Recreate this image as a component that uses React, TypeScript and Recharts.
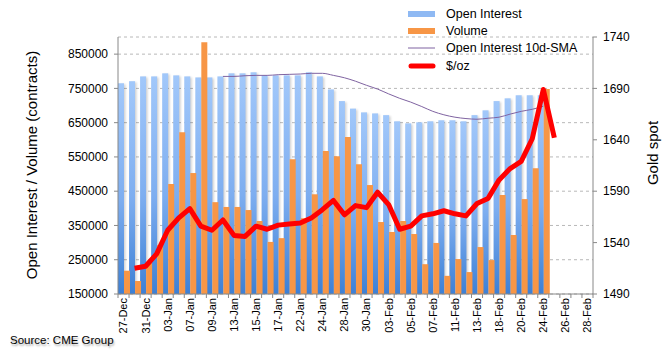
import React from 'react';
import { ComposedChart, Bar, Line, XAxis, YAxis, CartesianGrid } from 'recharts';

// trading days, 27-Dec to 28-Feb
const dates = [
  '27-Dec', '30-Dec', '31-Dec', '02-Jan', '03-Jan', '06-Jan', '07-Jan', '08-Jan', '09-Jan', '10-Jan',
  '13-Jan', '14-Jan', '15-Jan', '16-Jan', '17-Jan', '21-Jan', '22-Jan', '23-Jan', '24-Jan', '27-Jan',
  '28-Jan', '29-Jan', '30-Jan', '31-Jan', '03-Feb', '04-Feb', '05-Feb', '06-Feb', '07-Feb', '10-Feb',
  '11-Feb', '12-Feb', '13-Feb', '14-Feb', '18-Feb', '19-Feb', '20-Feb', '21-Feb', '24-Feb', '25-Feb',
  '26-Feb', '27-Feb', '28-Feb',
];

const openInterest = [
  765000, 771000, 785000, 785000, 794000, 788000, 785000, 782000, 782000, 785000,
  794000, 794000, 797000, 788000, 788000, 788000, 788000, 797000, 785000, 747000,
  713000, 691000, 680000, 677000, 672000, 654000, 648000, 651000, 654000, 657000,
  657000, 654000, 672000, 686000, 713000, 721000, 730000, 730000, 730000,
];

const volume = [
  218000, 188000, 240000, 293000, 471000, 622000, 503000, 885000, 418000, 404000,
  404000, 395000, 363000, 302000, 313000, 543000, 371000, 441000, 567000, 552000,
  608000, 529000, 468000, 360000, 331000, 363000, 325000, 237000, 299000, 203000,
  252000, 214000, 287000, 249000, 439000, 322000, 427000, 517000, 748000,
];

const oiSma = [
  null, null, null, null, null, null, null, null, null, 785000,
  785000, 787000, 788000, 788000, 790000, 791000, 792000, 794000, 794000, 788000,
  781000, 771000, 759000, 748000, 734000, 721000, 710000, 697000, 683000, 673000,
  666000, 662000, 660000, 663000, 666000, 675000, 683000, 689000, 698000,
];

const goldSpot = [
  null, 1515, 1517, 1529, 1552, 1564, 1573, 1556, 1552, 1562,
  1547, 1546, 1556, 1553, 1557, 1558, 1559, 1564, 1572, 1581,
  1567, 1576, 1574, 1589, 1577, 1553, 1556, 1566, 1568, 1571,
  1568, 1566, 1578, 1583, 1601, 1612, 1619, 1641, 1689, 1642,
];

const leftTicks = [150000, 250000, 350000, 450000, 550000, 650000, 750000, 850000];
const rightTicks = [1490, 1540, 1590, 1640, 1690, 1740];

const data = dates.map((date, i) => ({
  date,
  oi: openInterest[i] ?? null,
  vol: volume[i] ?? null,
  sma: oiSma[i] ?? null,
  gold: goldSpot[i] ?? null,
}));

const W = 671;
const H = 359;
const PLOT_W = 475;
const FONT = '"Liberation Sans", Arial, sans-serif';

const DateTick = (props: any) => {
  const { x, y, payload } = props;
  const idx = props.index ?? payload.index;
  const half = PLOT_W / dates.length / 2;
  return (
    <g>
      <line x1={x - half} x2={x - half} y1={y} y2={y + 4} stroke="#888" />
      {idx === dates.length - 1 && <line x1={x + half} x2={x + half} y1={y} y2={y + 4} stroke="#888" />}
      {idx % 2 === 0 && (
        <text
          x={x}
          y={y + 4}
          dy="0.36em"
          transform={`rotate(-90 ${x} ${y + 4})`}
          textAnchor="end"
          fontSize={11}
          fontFamily={FONT}
          fill="#000"
        >
          {payload.value}
        </text>
      )}
    </g>
  );
};

// blue bar with the soft grey shadow on its right side
const OiBar = (props: any) => {
  const { x, y, width, height } = props;
  if (!height || height <= 0) return null;
  return (
    <g>
      <rect x={x + 1.5} y={y + 1} width={width} height={height - 1} fill="#000" opacity={0.18} filter="url(#soft)" />
      <rect x={x} y={y} width={width} height={height} fill="url(#oiGrad)" />
    </g>
  );
};

const legendItems = [
  { label: 'Open Interest', kind: 'bar', color: '#8fb9f3' },
  { label: 'Volume', kind: 'bar', color: '#f79646' },
  { label: 'Open Interest 10d-SMA', kind: 'thin', color: '#7f63a1' },
  { label: '$/oz', kind: 'thick', color: '#ff0000' },
];

export default function App() {
  return (
    <div style={{ position: 'absolute', left: 0, top: 0, width: W, height: H, background: '#fff', fontFamily: FONT }}>
      <ComposedChart
        width={W}
        height={H}
        data={data}
        margin={{ top: 37, right: 28, bottom: 0, left: 38 }}
        barCategoryGap={0}
        barGap={0}
      >
        <defs>
          <linearGradient id="oiGrad" x1="0" y1="0" x2="0" y2="1">
            <stop offset="0%" stopColor="#a2c8fa" />
            <stop offset="55%" stopColor="#7eaef0" />
            <stop offset="100%" stopColor="#3d80d5" />
          </linearGradient>
          <filter id="soft" x="-50%" y="-5%" width="200%" height="110%">
            <feGaussianBlur stdDeviation="1" />
          </filter>
        </defs>
        <CartesianGrid yAxisId="left" vertical={false} stroke="#b8b8b8" strokeDasharray="3 3" />
        <XAxis
          dataKey="date"
          interval={0}
          height={65}
          tickSize={0}
          tickMargin={0}
          tickLine={false}
          axisLine={{ stroke: '#888' }}
          tick={<DateTick />}
        />
        <YAxis
          yAxisId="left"
          width={80}
          domain={[150000, 900000]}
          ticks={leftTicks}
          tickSize={4}
          tickMargin={6}
          axisLine={{ stroke: '#888' }}
          tickLine={{ stroke: '#888' }}
          tick={{ fontSize: 12, fill: '#000', fontFamily: FONT }}
        />
        <YAxis
          yAxisId="right"
          orientation="right"
          width={50}
          domain={[1490, 1740]}
          ticks={rightTicks}
          tickSize={4}
          tickMargin={6}
          axisLine={{ stroke: '#888' }}
          tickLine={{ stroke: '#888' }}
          tick={{ fontSize: 12, fill: '#000', fontFamily: FONT }}
        />
        <Bar yAxisId="left" dataKey="oi" fill="#8fb9f3" shape={<OiBar />} isAnimationActive={false} />
        <Bar yAxisId="left" dataKey="vol" fill="#f79646" isAnimationActive={false} />
        <Line
          yAxisId="left"
          dataKey="sma"
          type="monotone"
          stroke="#7f63a1"
          strokeWidth={1}
          dot={false}
          isAnimationActive={false}
        />
        <Line
          yAxisId="right"
          dataKey="gold"
          type="linear"
          stroke="#ff0000"
          strokeWidth={5}
          strokeLinejoin="round"
          dot={false}
          isAnimationActive={false}
        />
      </ComposedChart>

      <div
        style={{
          position: 'absolute', left: 31, top: 165, fontSize: 15, whiteSpace: 'nowrap',
          transform: 'translate(-50%, -50%) rotate(-90deg)', color: '#000',
        }}
      >
        Open Interest / Volume (contracts)
      </div>
      <div
        style={{
          position: 'absolute', left: 652, top: 153, fontSize: 15, whiteSpace: 'nowrap',
          transform: 'translate(-50%, -50%) rotate(-90deg)', color: '#000',
        }}
      >
        Gold spot
      </div>

      <div style={{ position: 'absolute', left: 407, top: 5 }}>
        {legendItems.map((it) => (
          <div key={it.label} style={{ display: 'flex', alignItems: 'center', height: 17.3, fontSize: 12.5 }}>
            <svg width={30} height={10} style={{ marginRight: 9 }}>
              {it.kind === 'bar' && <rect x={1} y={2} width={27} height={6} fill={it.color} />}
              {it.kind === 'thin' && <line x1={1} x2={28} y1={5} y2={5} stroke={it.color} strokeWidth={1} />}
              {it.kind === 'thick' && (
                <line x1={4} x2={26} y1={5} y2={5} stroke={it.color} strokeWidth={5} strokeLinecap="round" />
              )}
            </svg>
            <span>{it.label}</span>
          </div>
        ))}
      </div>

      <div
        style={{
          position: 'absolute', left: 10, top: 334, fontSize: 11.5, color: '#000',
          textShadow: '1px 2px 2px rgba(0,0,0,0.35)',
        }}
      >
        Source: CME Group
      </div>
    </div>
  );
}
